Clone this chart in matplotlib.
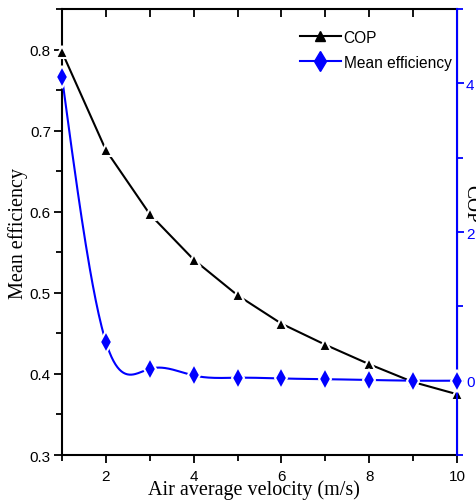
import numpy as np
import matplotlib
matplotlib.use("Agg")
import matplotlib.pyplot as plt
from matplotlib.ticker import MultipleLocator

# data
velocity = [1, 2, 3, 4, 5, 6, 7, 8, 9, 10]
cop_line = [0.797, 0.676, 0.597, 0.541, 0.497, 0.462, 0.436, 0.412, 0.390, 0.375]   # left axis
eff_line = [4.08, 0.52, 0.16, 0.07, 0.04, 0.03, 0.02, 0.01, 0.0, 0.0]              # right axis

sans = "Liberation Sans"
serif = "Liberation Serif"
blue = "#0000ff"


def natural_spline(x, y, n=400):
    x = np.asarray(x, float)
    y = np.asarray(y, float)
    k = len(x)
    h = np.diff(x)
    A = np.zeros((k, k))
    b = np.zeros(k)
    A[0, 0] = 1
    A[-1, -1] = 1
    for i in range(1, k - 1):
        A[i, i - 1] = h[i - 1]
        A[i, i] = 2 * (h[i - 1] + h[i])
        A[i, i + 1] = h[i]
        b[i] = 6 * ((y[i + 1] - y[i]) / h[i] - (y[i] - y[i - 1]) / h[i - 1])
    M = np.linalg.solve(A, b)
    xs = np.linspace(x[0], x[-1], n)
    idx = np.clip(np.searchsorted(x, xs) - 1, 0, k - 2)
    x0, x1 = x[idx], x[idx + 1]
    hh = x1 - x0
    t0 = x1 - xs
    t1 = xs - x0
    ys = (M[idx] * t0 ** 3 + M[idx + 1] * t1 ** 3) / (6 * hh) \
        + (y[idx] / hh - M[idx] * hh / 6) * t0 + (y[idx + 1] / hh - M[idx + 1] * hh / 6) * t1
    return xs, ys


fig = plt.figure(figsize=(4.76, 5.02), dpi=100)
ax = fig.add_axes([0.1303, 0.0916, 0.8297, 0.8884])
ax2 = ax.twinx()

l1, = ax.plot(velocity, cop_line, color="black", lw=1.5, marker="^", ms=9,
              mfc="black", mec="white", mew=1.5, clip_on=False, zorder=3)

sx, sy = natural_spline(velocity, eff_line)
ax2.plot(sx, sy, color=blue, lw=1.5, clip_on=False, zorder=2)
ax2.plot(velocity, eff_line, ls="none", marker="d", ms=11, mfc=blue,
         mec="white", mew=1.5, clip_on=False, zorder=3)
l2, = ax2.plot([], [], color=blue, lw=1.5, marker="d", ms=10, mfc=blue, mec=blue)
lg1, = ax.plot([], [], color="black", lw=1.5, marker="^", ms=7, mfc="black", mec="black")

ax.set_xlim(1, 10)
ax.set_ylim(0.3, 0.85)
ax2.set_ylim(-1, 5)

ax.xaxis.set_minor_locator(MultipleLocator(1))
ax.yaxis.set_major_locator(MultipleLocator(0.1))
ax.yaxis.set_minor_locator(MultipleLocator(0.05))
ax2.yaxis.set_major_locator(MultipleLocator(2))
ax2.yaxis.set_minor_locator(MultipleLocator(1))

ax.set_xticks([2, 4, 6, 8, 10])
ax.tick_params(axis="both", which="both", direction="out", width=1.3, labelsize=11)
ax.tick_params(axis="both", which="major", length=6)
ax.tick_params(axis="both", which="minor", length=4)
ax.tick_params(axis="x", which="both", top=False, pad=4)
ax.tick_params(axis="y", pad=2)
for lab in ax.get_xticklabels() + ax.get_yticklabels():
    lab.set_fontfamily(sans)

# inward ticks on the top edge at every integer
top = ax.secondary_xaxis("top")
top.set_xticks(velocity)
top.tick_params(direction="in", length=6, width=1.3, labeltop=False)
top.spines["top"].set_visible(False)

ax2.tick_params(axis="y", which="both", direction="out", colors=blue, width=1.3,
                labelsize=11, pad=1.5)
ax2.tick_params(axis="y", which="major", length=5)
ax2.tick_params(axis="y", which="minor", length=4)
for lab in ax2.get_yticklabels():
    lab.set_fontfamily(sans)

for s in ["left", "bottom", "top"]:
    ax.spines[s].set_linewidth(1.5)
ax2.spines["right"].set_color(blue)
ax2.spines["right"].set_linewidth(1.5)
ax2.spines["left"].set_visible(False)
ax2.spines["top"].set_visible(False)
ax2.spines["bottom"].set_visible(False)

ax.set_xlabel("Air average velocity (m/s)", fontfamily=serif, fontsize=14.5, va="center")
ax.xaxis.set_label_coords(0.486, -0.077)
ax.set_ylabel("Mean efficiency", fontfamily=serif, fontsize=14.5, va="center")
ax.yaxis.set_label_coords(-0.111, 0.5)
ax2.set_ylabel("COP", fontfamily=serif, fontsize=14, rotation=270, va="center")
ax2.yaxis.set_label_coords(1.035, 0.565)

ax.legend([lg1, l2], ["COP", "Mean efficiency"], loc="upper left",
          bbox_to_anchor=(0.587, 0.968), frameon=False, handlelength=2.6,
          handletextpad=0.2, labelspacing=0.65, borderaxespad=0,
          prop={"family": sans, "size": 11.2})

fig.savefig("out.png", dpi=100)
